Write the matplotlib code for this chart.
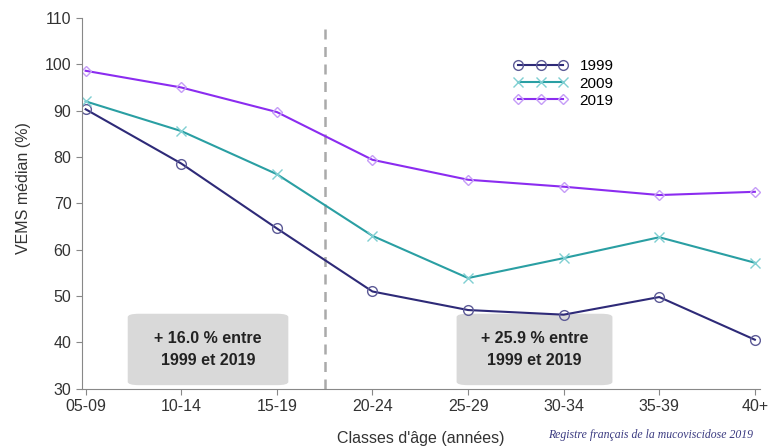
import matplotlib
matplotlib.use("Agg")
import matplotlib.pyplot as plt
from matplotlib.patches import FancyBboxPatch

plt.rcParams['font.family'] = ['Liberation Sans', 'DejaVu Sans']

# Data
age_classes = ['05-09', '10-14', '15-19', '20-24', '25-29', '30-34', '35-39', '40+']
vems_1999 = [90.3, 78.6, 64.6, 51.0, 47.0, 46.0, 49.8, 40.6]
vems_2009 = [92.0, 85.6, 76.3, 63.0, 53.9, 58.2, 62.7, 57.2]
vems_2019 = [98.6, 95.0, 89.7, 79.4, 75.1, 73.6, 71.8, 72.5]
box_texts = ['+ 16.0 % entre\n1999 et 2019', '+ 25.9 % entre\n1999 et 2019']

x = list(range(len(age_classes)))

fig = plt.figure(figsize=(7.72, 4.48), dpi=100)
ax = fig.add_axes([0.106, 0.132, 0.878, 0.828])

ax.plot(x, vems_1999, color='#2e2a78', lw=1.5, marker='o', ms=7,
        mfc='none', mec='#5c5a96', mew=1.0, label='1999')
ax.plot(x, vems_2009, color='#2a9fa3', lw=1.5, marker='x', ms=7,
        mec='#7fcfd2', mew=1.0, label='2009')
ax.plot(x, vems_2019, color='#8b2cf0', lw=1.5, marker='D', ms=5,
        mfc='none', mec='#c59cf7', mew=1.0, label='2019')

# dashed separator between 15-19 and 20-24
ax.axvline(2.5, ymax=0.97, color='#aaaaaa', ls=(0, (4, 3)), lw=1.8, zorder=0)

# grey annotation boxes
for (x0, x1), txt in zip([(0.44, 2.12), (3.88, 5.51)], box_texts):
    box = FancyBboxPatch((x0, 30.8), x1 - x0, 15.4,
                         boxstyle='round,pad=0,rounding_size=0.12',
                         mutation_aspect=6, fc='#d9d9d9', ec='none', zorder=1)
    ax.add_patch(box)
    ax.text((x0 + x1) / 2, 38.5, txt, ha='center', va='center',
            fontsize=11.5, fontweight='bold', color='#222222', zorder=2,
            linespacing=1.55)

ax.set_xlim(-0.04, 7.05)
ax.set_ylim(30, 110)
ax.set_yticks(range(30, 111, 10))
ax.set_xticks(x)
ax.set_xticklabels(age_classes)
ax.tick_params(labelsize=11.5, colors='#333333', length=4, color='#888888')

for side in ['top', 'right']:
    ax.spines[side].set_visible(False)
for side in ['left', 'bottom']:
    ax.spines[side].set_color('#888888')

ax.set_ylabel('VEMS médian (%)', fontsize=11.5, color='#333333')
ax.yaxis.set_label_coords(-0.075, 0.54)
ax.set_xlabel("Classes d'âge (années)", fontsize=11.5, color='#333333', labelpad=12)

ax.legend(loc='upper left', bbox_to_anchor=(0.617, 0.925), frameon=False,
          numpoints=3, handlelength=3.5, fontsize=11, labelspacing=0.2)

fig.text(0.975, 0.015, 'Registre français de la mucoviscidose 2019',
         ha='right', va='bottom', fontsize=8.5, family='Liberation Serif',
         style='italic', color='#3a3a80')

plt.savefig('out.png', dpi=100)
